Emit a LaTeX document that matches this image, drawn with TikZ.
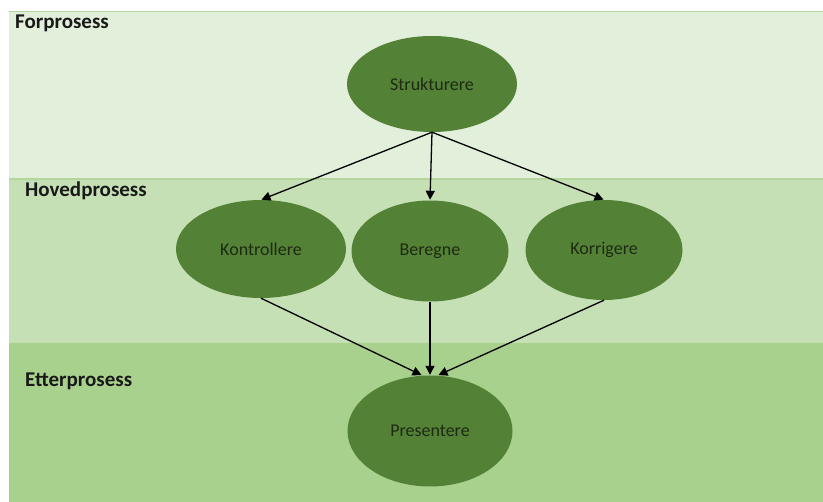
\documentclass[tikz,border=0pt]{standalone}
\usepackage{fontspec}
\setmainfont{Carlito}
\usetikzlibrary{arrows.meta,shapes.geometric}
\definecolor{bandA}{HTML}{E2EFDA}
\definecolor{bandB}{HTML}{C5E0B4}
\definecolor{bandC}{HTML}{A9D18E}
\definecolor{bandline}{HTML}{B2D69C}
\definecolor{proc}{HTML}{538135}
\definecolor{proctext}{HTML}{1E2A14}
\tikzset{
  band/.style={fill=#1, draw=none},
  phase/.style={anchor=base west, inner sep=0pt, font=\fontsize{21}{24}\selectfont\bfseries, text=black!90},
  proc/.style={ellipse, fill=proc, draw=none, minimum width=#1, text=proctext,
    font=\fontsize{18}{21}\selectfont, inner sep=0pt},
  flow/.style={draw=black, line width=1.3pt, -{Triangle[length=9pt,width=9pt]}, shorten >=0.5pt}
}
\begin{document}
\begin{tikzpicture}[x=1pt,y=-1pt]
\useasboundingbox (0,0) rectangle (823,502);
% swim lanes
\fill[band=bandA] (9,11) rectangle (823,179);
\fill[band=bandB] (9,179) rectangle (823,343);
\fill[band=bandC] (9,343) rectangle (823,502);
\draw[bandline, line width=1.2pt] (9,11.5) -- (823,11.5);
\draw[bandline, line width=1.5pt] (9,179) -- (823,179);
% lane titles
\node[phase] (lf) at (15,29) {Forprosess};
\node[phase] (lh) at (25,197) {Hovedprosess};
\node[phase] (le) at (25,387) {Etterprosess};
% process steps
\node[proc=170pt, minimum height=96pt] (s) at (432,84) {Strukturere};
\node[proc=170pt, minimum height=98pt] (k) at (261,249) {Kontrollere};
\node[proc=157pt, minimum height=101pt] (b) at (430,251) {Beregne};
\node[proc=157pt, minimum height=100pt] (r) at (604,250) {Korrigere};
\node[proc=165pt, minimum height=111pt] (p) at (430,431) {Presentere};
% flows
\draw[flow] (s.south) -- (k.north);
\draw[flow] (s.south) -- (b.north);
\draw[flow] (s.south) -- (r.north);
\draw[flow] (k.south) -- ([xshift=-8pt]p.north);
\draw[flow] (b.south) -- (p.north);
\draw[flow] (r.south) -- ([xshift=8pt]p.north);
\end{tikzpicture}
\end{document}
